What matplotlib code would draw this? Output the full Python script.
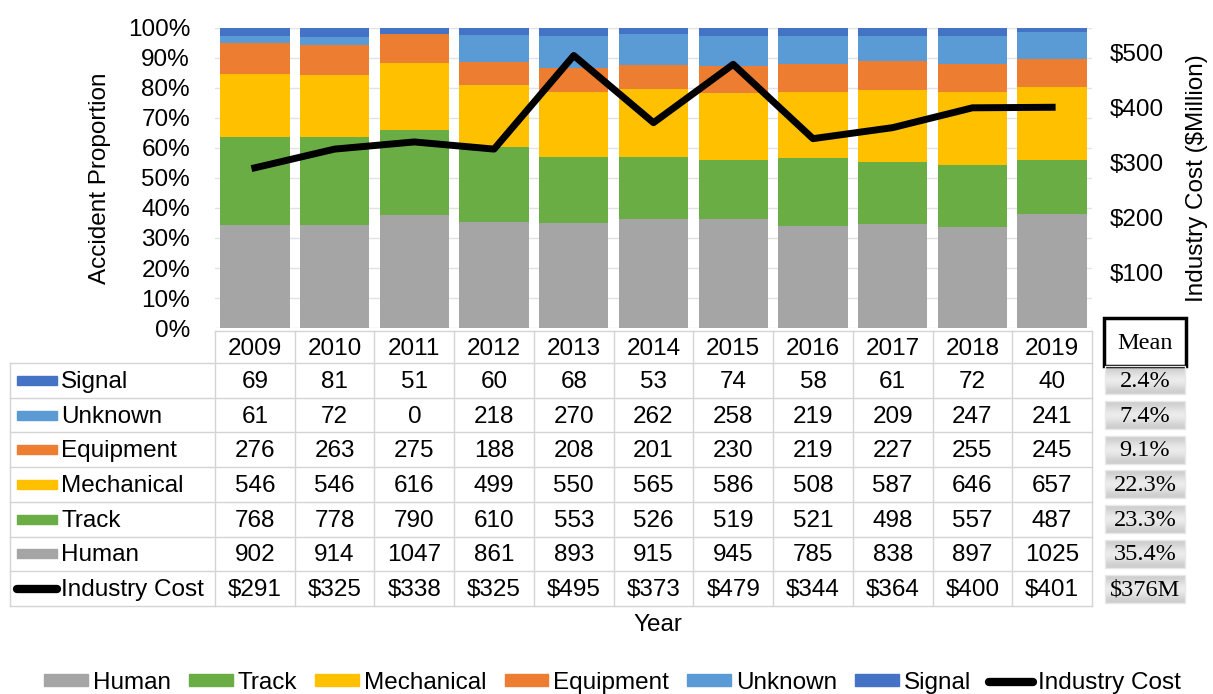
import numpy as np
import matplotlib
matplotlib.use('Agg')
import matplotlib.pyplot as plt
from matplotlib.patches import Rectangle, Patch
from matplotlib.lines import Line2D

plt.rcParams['font.family'] = ['Liberation Sans', 'DejaVu Sans']

years = [2009, 2010, 2011, 2012, 2013, 2014, 2015, 2016, 2017, 2018, 2019]
signal = [69, 81, 51, 60, 68, 53, 74, 58, 61, 72, 40]
unknown = [61, 72, 0, 218, 270, 262, 258, 219, 209, 247, 241]
equipment = [276, 263, 275, 188, 208, 201, 230, 219, 227, 255, 245]
mechanical = [546, 546, 616, 499, 550, 565, 586, 508, 587, 646, 657]
track = [768, 778, 790, 610, 553, 526, 519, 521, 498, 557, 487]
human = [902, 914, 1047, 861, 893, 915, 945, 785, 838, 897, 1025]
cost = [291, 325, 338, 325, 495, 373, 479, 344, 364, 400, 401]
mean_labels = ['2.4%', '7.4%', '9.1%', '22.3%', '23.3%', '35.4%', '$376M']

# bottom to top stacking order
stack_names = ['Human', 'Track', 'Mechanical', 'Equipment', 'Unknown', 'Signal']
stack_vals = [human, track, mechanical, equipment, unknown, signal]
colors = {'Human': '#A5A5A5', 'Track': '#6AAD45', 'Mechanical': '#FFC000',
          'Equipment': '#ED7D31', 'Unknown': '#5B9BD5', 'Signal': '#4472C4'}

W, H = 1213, 694
FS = 17.5
fig = plt.figure(figsize=(W / 100, H / 100), dpi=100)

# main plot area (pixel coords of the reference)
ax_l, ax_r, ax_t, ax_b = 215, 1092, 28, 328
ax = fig.add_axes([ax_l / W, 1 - ax_b / H, (ax_r - ax_l) / W, (ax_b - ax_t) / H])

x = np.arange(len(years))
totals = np.sum(np.array(stack_vals), axis=0)
bottom = np.zeros(len(years))
for name, vals in zip(stack_names, stack_vals):
    frac = np.array(vals) / totals
    ax.bar(x, frac, 0.87, bottom=bottom, color=colors[name], zorder=2)
    bottom += frac

ax.set_xlim(-0.5, len(years) - 0.5)
ax.set_ylim(0, 1)
ax.set_yticks(np.arange(0, 1.01, 0.1))
ax.set_yticklabels([f'{int(round(v * 100))}%' for v in np.arange(0, 1.01, 0.1)], fontsize=FS)
ax.set_xticks([])
ax.tick_params(axis='y', length=0, pad=18)
ax.grid(axis='y', color='#E3E3E3', linewidth=1, zorder=0)
for s in ax.spines.values():
    s.set_visible(False)
ax.set_ylabel('Accident Proportion', fontsize=FS, labelpad=12)

ax2 = ax.twinx()
ax2.plot(x, cost, color='black', linewidth=5, zorder=3)
ax2.set_ylim(0, 545)
ax2.set_yticks([100, 200, 300, 400, 500])
ax2.set_yticklabels([f'${v}' for v in [100, 200, 300, 400, 500]], fontsize=FS)
ax2.tick_params(axis='y', length=0, pad=13)
for s in ax2.spines.values():
    s.set_visible(False)
ax2.set_ylabel('Industry Cost ($Million)', fontsize=FS, labelpad=16)

# overlay for the data table (pixel coordinates)
ov = fig.add_axes([0, 0, 1, 1])
ov.set_xlim(0, W)
ov.set_ylim(H, 0)
ov.axis('off')

col_w = (ax_r - ax_l) / len(years)
lab_l, lab_r = 10, 213
hdr_t, hdr_b = 331, 363
row_h = 34.7
line_c = '#D4D4D4'

row_names = ['Signal', 'Unknown', 'Equipment', 'Mechanical', 'Track', 'Human', 'Industry Cost']
row_vals = [signal, unknown, equipment, mechanical, track, human, [f'${c}' for c in cost]]
n_rows = len(row_names)
tbl_b = hdr_b + n_rows * row_h

# header cells
for i, yr in enumerate(years):
    cx = ax_l + (i + 0.5) * col_w
    ov.text(cx, (hdr_t + hdr_b) / 2 + 2, str(yr), ha='center', va='center', fontsize=FS)
for i in range(len(years) + 1):
    xx = ax_l + i * col_w
    ov.plot([xx, xx], [hdr_t, tbl_b], color=line_c, lw=1)
ov.plot([lab_l, lab_l], [hdr_b, tbl_b], color=line_c, lw=1)
ov.plot([ax_l, ax_r], [hdr_t, hdr_t], color=line_c, lw=1)
for r in range(n_rows + 1):
    yy = hdr_b + r * row_h
    ov.plot([lab_l, ax_r], [yy, yy], color=line_c, lw=1)

# body rows
for r, (name, vals) in enumerate(zip(row_names, row_vals)):
    cy = hdr_b + (r + 0.5) * row_h
    if name == 'Industry Cost':
        ov.plot([17, 57], [cy, cy], color='black', lw=6, solid_capstyle='round')
    else:
        ov.add_patch(Rectangle((17, cy - 4.5), 40, 9, color=colors[name]))
    ov.text(61, cy + 1.5, name, ha='left', va='center', fontsize=FS)
    for i, v in enumerate(vals):
        cx = ax_l + (i + 0.5) * col_w
        ov.text(cx, cy + 1.5, str(v), ha='center', va='center', fontsize=FS)

# mean column
m_l, m_r = 1104, 1186
ov.add_patch(Rectangle((m_l, 318), m_r - m_l, 48, facecolor='white',
                       edgecolor='black', lw=2.5))
ov.text((m_l + m_r) / 2, 343, 'Mean', ha='center', va='center', fontsize=FS,
        family='Liberation Serif')
grad = np.array([[0.80], [0.88], [0.94], [0.88], [0.80]])
for r, lab in enumerate(mean_labels):
    cy = hdr_b + (r + 0.5) * row_h
    top, bot = cy - 14, cy + 14
    ov.imshow(grad, cmap='gray', vmin=0, vmax=1, aspect='auto',
              extent=(m_l + 1, m_r - 1, bot, top), interpolation='bicubic')
    ov.add_patch(Rectangle((m_l + 1, top), m_r - m_l - 2, bot - top, fill=False,
                           edgecolor='#E8E8E8', lw=1))
    ov.text((m_l + m_r) / 2, cy + 1, lab, ha='center', va='center', fontsize=FS,
            family='Liberation Serif')
ov.set_xlim(0, W)
ov.set_ylim(H, 0)

ov.text((ax_l + ax_r) / 2 + 4, 625, 'Year', ha='center', va='center', fontsize=FS)

# legend at the bottom
handles = [Patch(color=colors[n]) for n in stack_names]
handles.append(Line2D([], [], color='black', lw=6, solid_capstyle='round'))
fig.legend(handles, stack_names + ['Industry Cost'], loc='center',
           bbox_to_anchor=(0.505, 1 - 683 / H), ncol=7, frameon=False, fontsize=FS,
           handlelength=1.8, handleheight=0.4, handletextpad=0.2, columnspacing=0.75)

fig.savefig('out.png', dpi=100)
